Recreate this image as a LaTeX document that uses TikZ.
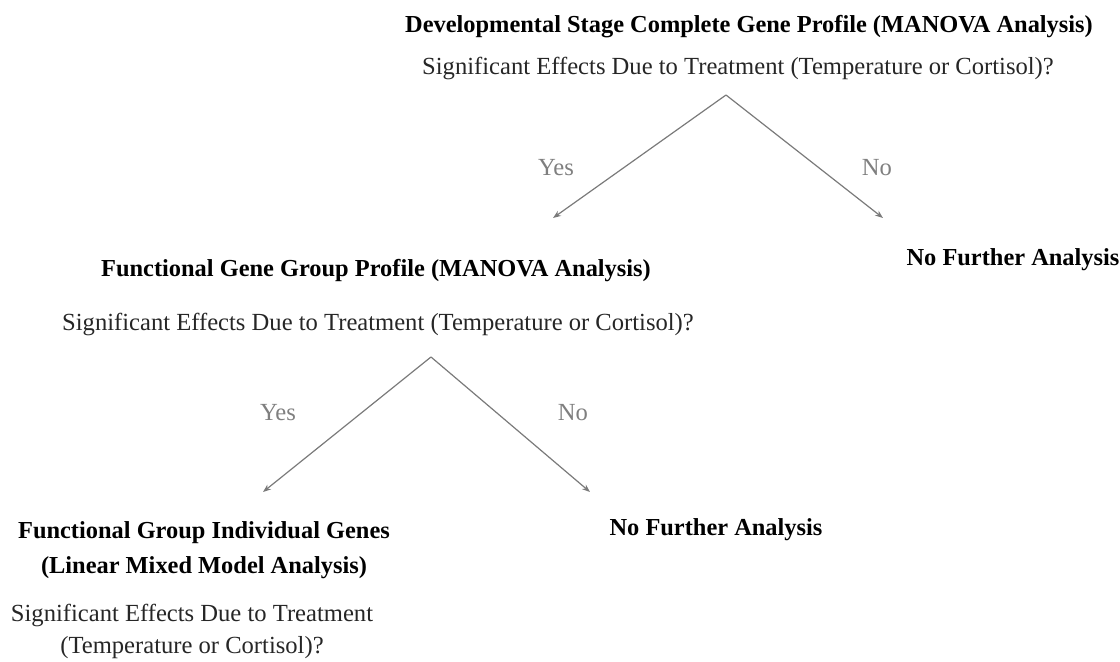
\documentclass[tikz,border=0pt]{standalone}
\usepackage{fontspec}
\setmainfont{Liberation Serif}
\usepackage{xcolor}
\usetikzlibrary{arrows.meta, positioning}

\definecolor{linegray}{HTML}{7A7A7A}
\definecolor{textgray}{HTML}{7F7F7F}

\begin{document}
\begin{tikzpicture}[x=0.5pt, y=-0.5pt, every node/.style={font=\fontsize{12.3}{16}\selectfont, inner sep=0pt},
    title/.style={font=\fontsize{12.2}{17.5}\selectfont\bfseries, align=center},
    question/.style={text=black!85, align=center, font=\fontsize{12.3}{16}\selectfont},
    answer/.style={text=textgray},
    branch/.style={draw=linegray, line width=0.6pt, -{Stealth[length=4pt, width=3pt]}}]
        \useasboundingbox (0,0) rectangle (1120,662);
        % Stage profile
        \node[title] (stage) at (749,27) {Developmental Stage Complete Gene Profile (MANOVA Analysis)};
        \node[question] (stageq) at (738,69) {Significant Effects Due to Treatment (Temperature or Cortisol)?};
        \coordinate (apexA) at (726,95);
        \coordinate (yesA) at (553,218);
        \coordinate (noA) at (883,218);
        \draw[branch] (apexA) -- (yesA);
        \draw[branch] (apexA) -- (noA);
        \node[answer] (yesAlbl) at (556,168) {Yes};
        \node[answer] (noAlbl) at (877,168) {No};
        \node[title] (stopA) at (1013,260) {No Further Analysis};
        % Functional group profile
        \node[title] (group) at (376,271) {Functional Gene Group Profile (MANOVA Analysis)};
        \node[question] (groupq) at (378,324) {Significant Effects Due to Treatment (Temperature or Cortisol)?};
        \coordinate (apexB) at (431,357);
        \coordinate (yesB) at (263,492);
        \coordinate (noB) at (590,492);
        \draw[branch] (apexB) -- (yesB);
        \draw[branch] (apexB) -- (noB);
        \node[answer] (yesBlbl) at (278,413) {Yes};
        \node[answer] (noBlbl) at (573,413) {No};
        \node[title] (stopB) at (716,530) {No Further Analysis};
        % Individual genes
        \node[title] (genes) at (204,550) {Functional Group Individual Genes\\(Linear Mixed Model Analysis)};
        \node[question] (genesq) at (192,631) {Significant Effects Due to Treatment\\(Temperature or Cortisol)?};
    \end{tikzpicture}
\end{document}
